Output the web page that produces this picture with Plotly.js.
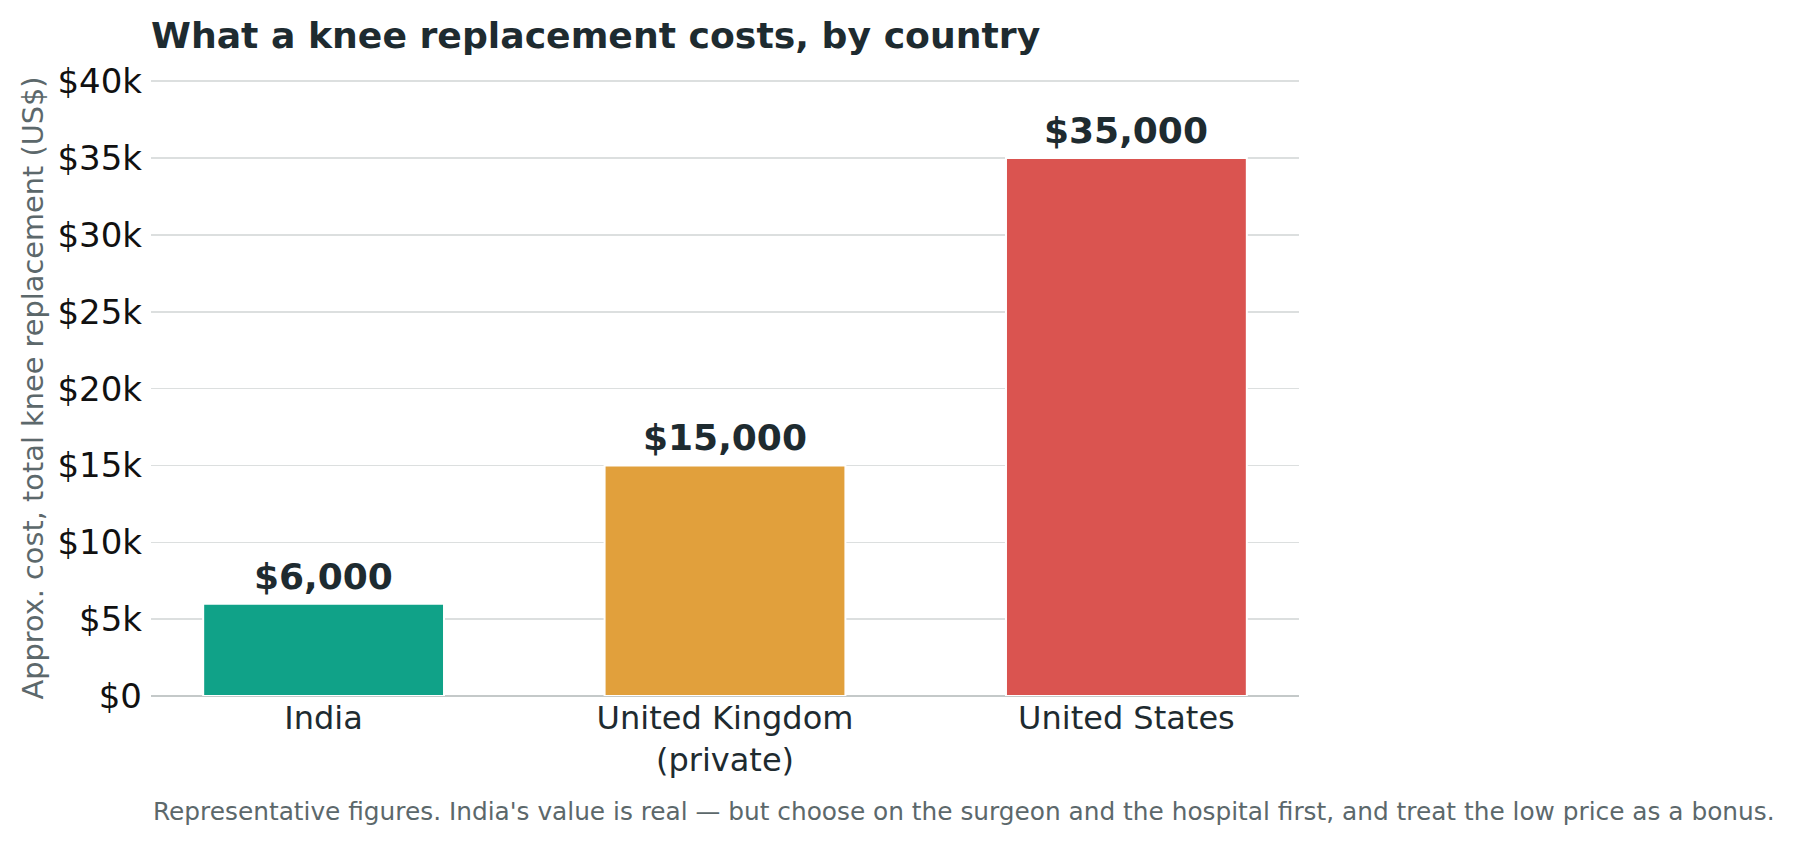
<!DOCTYPE html>
<html>
<head>
<meta charset="utf-8">
<script src="https://cdn.plot.ly/plotly-3.0.1.min.js"></script>
<style>
  html, body { margin: 0; padding: 0; background: #fff; }
  #plot { width: 1796px; height: 844px; }
</style>
</head>
<body>
<div id="plot"></div>
<script>
// data
const countries = ["India", "United Kingdom<br>(private)", "United States"];
const costs = [6000, 15000, 35000];
const costLabels = ["$6,000", "$15,000", "$35,000"];
const barColors = ["#10a288", "#e1a03c", "#da5450"];
const yTickVals = [0, 5000, 10000, 15000, 20000, 25000, 30000, 35000, 40000];
const yTickText = ["$0", "$5k", "$10k", "$15k", "$20k", "$25k", "$30k", "$35k", "$40k"];

const FONT = "DejaVu Sans, sans-serif";
const DARK = "#1e2b30";
const GREY = "#5c686b";

const trace = {
  type: "bar",
  x: countries,
  y: costs,
  width: 0.6,
  marker: {
    color: barColors,
    line: { color: "#ffffff", width: 2 }
  },
  hoverinfo: "skip"
};

// value labels above each bar
const labels = countries.map((c, i) => ({
  x: c,
  y: costs[i],
  xref: "x",
  yref: "y",
  text: "<b>" + costLabels[i] + "</b>",
  showarrow: false,
  yanchor: "bottom",
  yshift: 5,
  font: { family: FONT, size: 36, color: DARK }
}));

const footnote = {
  xref: "paper",
  yref: "paper",
  x: 0,
  y: -0.188,
  xanchor: "left",
  yanchor: "middle",
  showarrow: false,
  text: "Representative figures. India's value is real — but choose on the surgeon and the hospital first, and treat the low price as a bonus.",
  font: { family: FONT, size: 24.8, color: GREY }
};

const layout = {
  width: 1796,
  height: 844,
  margin: { l: 151, r: 497, t: 80, b: 148 },
  paper_bgcolor: "#ffffff",
  plot_bgcolor: "#ffffff",
  showlegend: false,
  title: {
    text: "<b>What a knee replacement costs, by country</b>",
    font: { family: FONT, size: 36.2, color: DARK },
    xref: "paper",
    x: 0,
    xanchor: "left",
    yref: "container",
    y: 1 - 35 / 844,
    yanchor: "middle"
  },
  xaxis: {
    range: [-0.43, 2.43],
    showgrid: false,
    zeroline: false,
    showline: false,
    ticks: "",
    tickfont: { family: FONT, size: 32, color: DARK },
    fixedrange: true
  },
  yaxis: {
    range: [0, 40080],
    tickvals: yTickVals,
    ticktext: yTickText,
    tickfont: { family: FONT, size: 34, color: "#111111" },
    ticks: "",
    ticklabelstandoff: 8,
    showgrid: true,
    gridcolor: "#dcdfdf",
    gridwidth: 1.5,
    zeroline: true,
    zerolinecolor: "#c4c9c9",
    zerolinewidth: 2.5,
    showline: false,
    title: {
      text: "Approx. cost, total knee replacement (US$)",
      font: { family: FONT, size: 28.8, color: GREY },
      standoff: 5
    },
    fixedrange: true
  },
  annotations: labels.concat([footnote])
};

Plotly.newPlot("plot", [trace], layout, { displayModeBar: false, staticPlot: true });
</script>
</body>
</html>
